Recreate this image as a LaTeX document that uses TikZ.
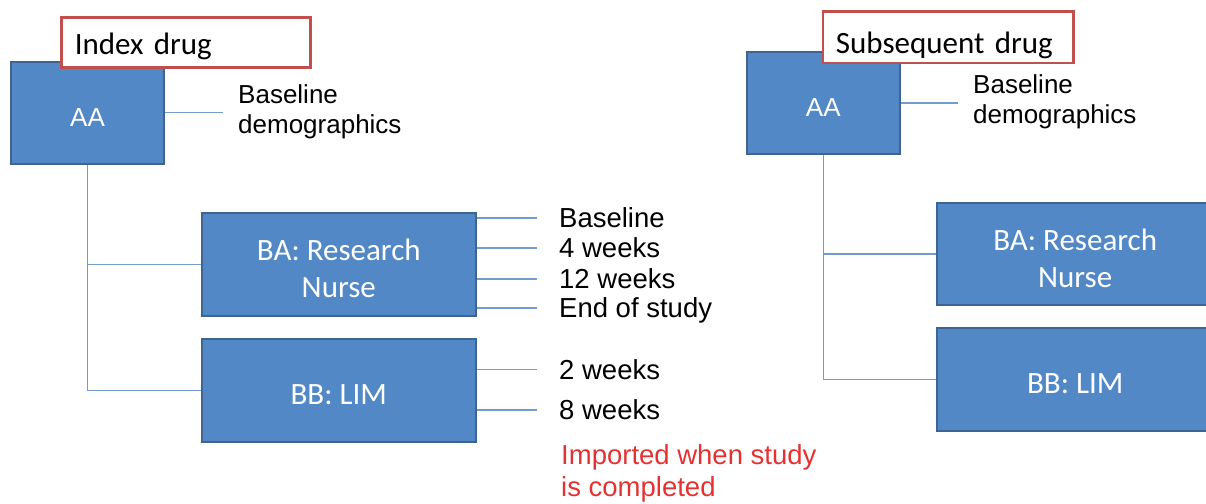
\documentclass[tikz,border=0pt]{standalone}
\usepackage{fontspec}
\setmainfont{Liberation Sans}
\newfontfamily\calibri{Carlito}
\definecolor{boxfill}{RGB}{82,136,198}
\definecolor{boxline}{RGB}{62,100,148}
\definecolor{connline}{RGB}{115,155,203}
\definecolor{tagline}{RGB}{192,80,77}
\definecolor{importred}{RGB}{228,50,50}
\begin{document}
\begin{tikzpicture}[x=1pt,y=-1pt,
  topbox/.style={draw=boxline, line width=2pt, fill=boxfill, text=white,
    inner sep=0pt, minimum width=153.5pt, minimum height=102pt,
    font=\fontsize{26}{31}\selectfont, text height=27pt, text depth=0pt},
  subbox/.style={draw=boxline, line width=2pt, fill=boxfill, text=white,
    inner sep=0pt, minimum width=#1, minimum height=102.5pt, align=center,
    font=\calibri\fontsize{31}{37}\selectfont},
  twoline/.style={text height=67pt, text depth=0pt},
  oneline/.style={text height=27pt, text depth=0pt},
  tagbox/.style={draw=tagline, line width=2.5pt, fill=white, anchor=west,
    inner ysep=0pt, align=left, font=\calibri\fontsize{31}{37}\selectfont,
    text depth=0pt},
  conn/.style={draw=connline, line width=1.5pt},
  demo/.style={anchor=north west, inner sep=0pt, align=left,
    font=\fontsize{26}{30}\selectfont},
  weeklabel/.style={anchor=west, inner sep=0pt, text height=19.7pt,
    text depth=0pt, font=\fontsize{27.5}{32}\selectfont},
  note/.style={anchor=north west, inner sep=0pt, align=left,
    text=importred, font=\fontsize{27.5}{32}\selectfont}]
\useasboundingbox (0,0) rectangle (1206,503);

% ---------- left: index drug ----------
\node[topbox] (AAL) at (87.5,112.5) {AA};
\node[tagbox, minimum height=50pt, inner xsep=13.5pt, text width=222.3pt,
  text height=25.4pt] (tagL) at (60,42.3) {Index drug};
\node[demo] (demoL) at (238,84.5) {Baseline\\demographics};
\draw[conn] (AAL.east) -- ([xshift=-15pt]AAL.east -| demoL.west);

\node[subbox=274.3pt, twoline] (BAL) at (338.8,264.3) {BA: Research\\Nurse};
\node[subbox=274.3pt, oneline] (BBL) at (338.8,390.5) {BB: LIM};
\draw[conn] (AAL.south) |- (BAL.west);
\draw[conn] (AAL.south) |- (BBL.west);

\node[weeklabel] (w1) at (559,218) {Baseline};
\node[weeklabel] (w2) at (559,248) {4 weeks};
\node[weeklabel] (w3) at (559,279) {12 weeks};
\node[weeklabel] (w4) at (559,308) {End of study};
\node[weeklabel] (w5) at (559,369.5) {2 weeks};
\node[weeklabel] (w6) at (559,410) {8 weeks};
\foreach \w in {w1,w2,w3,w4}
  \draw[conn] (BAL.east |- \w.west) -- ([xshift=-22pt]\w.west);
\foreach \w in {w5,w6}
  \draw[conn] (BBL.east |- \w.west) -- ([xshift=-22pt]\w.west);

\node[note] (imp) at (561,444.5) {Imported when study\\is completed};

% ---------- right: subsequent drug ----------
\node[topbox] (AAR) at (823.3,102.8) {AA};
\node[tagbox, minimum height=51.3pt, inner xsep=13pt, text width=224.3pt,
  text height=32pt] (tagR) at (821.7,37.3) {Subsequent drug};
\node[demo] (demoR) at (973,74.5) {Baseline\\demographics};
\draw[conn] (AAR.east) -- ([xshift=-15pt]AAR.east -| demoR.west);

\node[subbox=275.7pt, twoline] (BAR) at (1075.2,253.8) {BA: Research\\Nurse};
\node[subbox=275.7pt, oneline] (BBR) at (1075.2,379.5) {BB: LIM};
\draw[conn] (AAR.south) |- (BAR.west);
\draw[conn] (AAR.south) |- (BBR.west);
\end{tikzpicture}
\end{document}
